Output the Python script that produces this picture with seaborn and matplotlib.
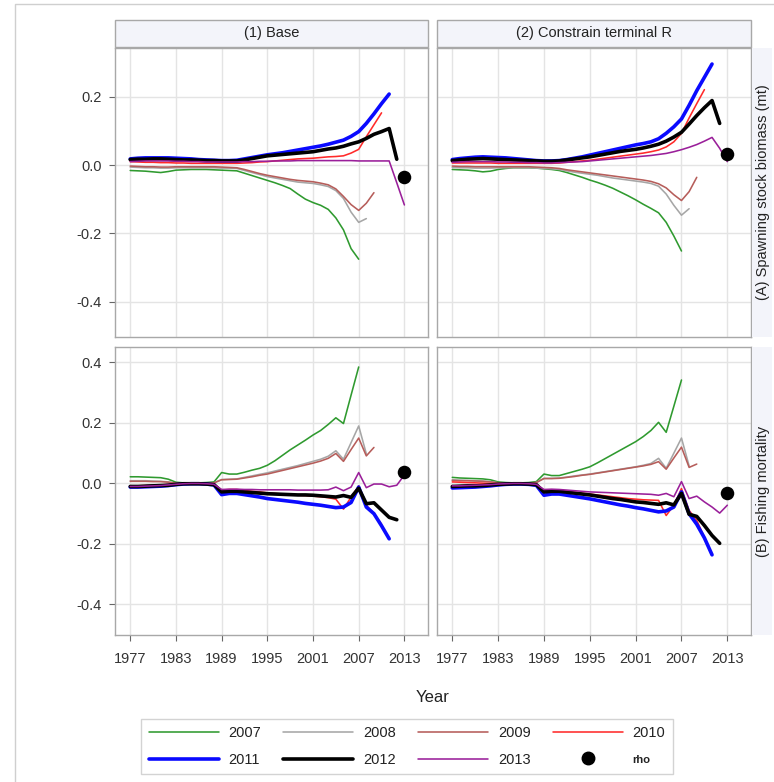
import matplotlib
matplotlib.use("Agg")
import matplotlib.pyplot as plt
from matplotlib.patches import Rectangle
from matplotlib.lines import Line2D
import numpy as np
import pandas as pd
import seaborn as sns

# ---------------------------------------------------------------- data
first_year = 1977
series_names = ["2007", "2008", "2009", "2010", "2011", "2012", "2013"]
x_ticks = [1977, 1983, 1989, 1995, 2001, 2007, 2013]
rho_year = 2013

# (A) Spawning stock biomass, (1) Base
ssb_base_2007 = [-0.016, -0.017, -0.018, -0.020, -0.022, -0.019, -0.015, -0.014, -0.013, -0.013,
                 -0.013, -0.014, -0.015, -0.016, -0.017, -0.024, -0.031, -0.038, -0.045, -0.052,
                 -0.060, -0.069, -0.085, -0.100, -0.110, -0.118, -0.130, -0.155, -0.190, -0.245,
                 -0.276]
ssb_base_2008 = [-0.006, -0.007, -0.008, -0.008, -0.009, -0.009, -0.008, -0.008, -0.008, -0.008,
                 -0.008, -0.008, -0.009, -0.009, -0.010, -0.016, -0.022, -0.028, -0.034, -0.038,
                 -0.042, -0.046, -0.050, -0.052, -0.054, -0.058, -0.063, -0.075, -0.098, -0.138,
                 -0.168, -0.157]
ssb_base_2009 = [-0.003, -0.004, -0.005, -0.005, -0.006, -0.006, -0.005, -0.005, -0.005, -0.005,
                 -0.005, -0.005, -0.006, -0.007, -0.008, -0.013, -0.019, -0.025, -0.030, -0.034,
                 -0.038, -0.042, -0.045, -0.047, -0.049, -0.053, -0.058, -0.070, -0.092, -0.116,
                 -0.133, -0.112, -0.081]
ssb_base_2010 = [0.010, 0.009, 0.008, 0.008, 0.007, 0.007, 0.006, 0.006, 0.005, 0.005,
                 0.005, 0.005, 0.005, 0.005, 0.005, 0.006, 0.007, 0.009, 0.010, 0.012,
                 0.014, 0.016, 0.018, 0.019, 0.020, 0.022, 0.024, 0.025, 0.027, 0.035,
                 0.046, 0.083, 0.118, 0.153]
ssb_base_2011 = [0.018, 0.020, 0.021, 0.021, 0.021, 0.021, 0.020, 0.019, 0.018, 0.016,
                 0.015, 0.014, 0.013, 0.013, 0.014, 0.018, 0.022, 0.026, 0.030, 0.033,
                 0.036, 0.040, 0.044, 0.048, 0.052, 0.056, 0.061, 0.067, 0.073, 0.084,
                 0.098, 0.122, 0.150, 0.180, 0.208]
ssb_base_2012 = [0.016, 0.017, 0.017, 0.018, 0.018, 0.017, 0.016, 0.015, 0.015, 0.014,
                 0.013, 0.013, 0.012, 0.012, 0.012, 0.015, 0.019, 0.023, 0.027, 0.029,
                 0.031, 0.033, 0.035, 0.037, 0.039, 0.043, 0.047, 0.050, 0.055, 0.062,
                 0.068, 0.078, 0.090, 0.098, 0.107, 0.017]
ssb_base_2013 = [0.010, 0.011, 0.012, 0.012, 0.012, 0.012, 0.011, 0.011, 0.010, 0.010,
                 0.009, 0.009, 0.009, 0.009, 0.009, 0.010, 0.010, 0.011, 0.011, 0.012,
                 0.012, 0.012, 0.013, 0.013, 0.013, 0.013, 0.013, 0.013, 0.013, 0.013,
                 0.012, 0.012, 0.012, 0.012, 0.012, -0.052, -0.117]
ssb_base_rho = -0.036

# (A) Spawning stock biomass, (2) Constrain terminal R
ssb_con_2007 = [-0.013, -0.014, -0.015, -0.017, -0.020, -0.018, -0.013, -0.010, -0.008, -0.008,
                -0.008, -0.009, -0.011, -0.013, -0.016, -0.022, -0.029, -0.036, -0.044, -0.051,
                -0.059, -0.068, -0.079, -0.090, -0.102, -0.115, -0.127, -0.140, -0.168, -0.208,
                -0.252]
ssb_con_2008 = [-0.007, -0.008, -0.008, -0.009, -0.009, -0.009, -0.008, -0.008, -0.008, -0.008,
                -0.008, -0.009, -0.010, -0.011, -0.013, -0.017, -0.021, -0.024, -0.027, -0.030,
                -0.034, -0.038, -0.041, -0.044, -0.047, -0.050, -0.054, -0.062, -0.085, -0.118,
                -0.147, -0.128]
ssb_con_2009 = [-0.003, -0.004, -0.004, -0.005, -0.005, -0.005, -0.005, -0.005, -0.005, -0.005,
                -0.005, -0.006, -0.007, -0.008, -0.010, -0.014, -0.017, -0.020, -0.023, -0.026,
                -0.029, -0.032, -0.035, -0.038, -0.041, -0.044, -0.048, -0.055, -0.067, -0.087,
                -0.104, -0.078, -0.036]
ssb_con_2010 = [0.006, 0.006, 0.006, 0.006, 0.006, 0.006, 0.005, 0.005, 0.005, 0.005,
                0.005, 0.005, 0.005, 0.005, 0.006, 0.008, 0.010, 0.012, 0.014, 0.017,
                0.020, 0.023, 0.026, 0.029, 0.032, 0.035, 0.039, 0.044, 0.053, 0.068,
                0.093, 0.138, 0.180, 0.221]
ssb_con_2011 = [0.016, 0.019, 0.021, 0.023, 0.024, 0.023, 0.022, 0.021, 0.019, 0.017,
                0.015, 0.013, 0.012, 0.012, 0.013, 0.016, 0.020, 0.024, 0.029, 0.034,
                0.039, 0.044, 0.049, 0.054, 0.059, 0.063, 0.068, 0.077, 0.093, 0.112,
                0.135, 0.175, 0.218, 0.257, 0.296]
ssb_con_2012 = [0.013, 0.015, 0.017, 0.018, 0.019, 0.018, 0.017, 0.016, 0.015, 0.014,
                0.013, 0.012, 0.011, 0.011, 0.012, 0.015, 0.018, 0.021, 0.024, 0.028,
                0.032, 0.036, 0.040, 0.043, 0.046, 0.050, 0.055, 0.061, 0.070, 0.082,
                0.096, 0.120, 0.145, 0.168, 0.189, 0.122]
ssb_con_2013 = [0.008, 0.009, 0.010, 0.010, 0.010, 0.010, 0.009, 0.009, 0.008, 0.008,
                0.007, 0.007, 0.006, 0.006, 0.007, 0.008, 0.009, 0.010, 0.012, 0.014,
                0.016, 0.018, 0.020, 0.022, 0.024, 0.026, 0.028, 0.031, 0.034, 0.039,
                0.045, 0.052, 0.060, 0.070, 0.081, 0.049, 0.010]
ssb_con_rho = 0.032

# (B) Fishing mortality, (1) Base
f_base_2007 = [0.022, 0.022, 0.021, 0.020, 0.019, 0.014, 0.004, 0.002, 0.002, 0.002,
               0.003, 0.005, 0.036, 0.031, 0.031, 0.037, 0.044, 0.050, 0.060, 0.075,
               0.093, 0.111, 0.127, 0.143, 0.160, 0.175, 0.195, 0.217, 0.198, 0.292,
               0.385]
f_base_2008 = [0.009, 0.009, 0.009, 0.008, 0.007, 0.005, 0.001, 0.000, 0.000, 0.000,
               0.001, 0.002, 0.013, 0.014, 0.015, 0.020, 0.025, 0.030, 0.035, 0.041,
               0.047, 0.053, 0.059, 0.066, 0.073, 0.080, 0.090, 0.108, 0.080, 0.135,
               0.190, 0.098]
f_base_2009 = [0.007, 0.007, 0.007, 0.006, 0.006, 0.004, 0.001, 0.000, 0.000, 0.000,
               0.001, 0.002, 0.012, 0.013, 0.014, 0.018, 0.022, 0.027, 0.031, 0.037,
               0.043, 0.049, 0.055, 0.061, 0.067, 0.074, 0.083, 0.099, 0.073, 0.112,
               0.150, 0.091, 0.119]
f_base_2010 = [-0.008, -0.008, -0.007, -0.006, -0.005, -0.003, -0.001, 0.000, 0.000, 0.000,
               -0.001, -0.003, -0.022, -0.020, -0.020, -0.023, -0.026, -0.028, -0.031, -0.033,
               -0.035, -0.037, -0.039, -0.040, -0.042, -0.044, -0.047, -0.052, -0.085, -0.045,
               -0.008, -0.072, -0.100, -0.135]
f_base_2011 = [-0.012, -0.012, -0.011, -0.010, -0.009, -0.007, -0.004, -0.002, -0.001, -0.001,
               -0.002, -0.005, -0.037, -0.033, -0.033, -0.037, -0.041, -0.045, -0.050, -0.053,
               -0.056, -0.059, -0.062, -0.066, -0.069, -0.072, -0.076, -0.080, -0.078, -0.063,
               -0.012, -0.078, -0.100, -0.140, -0.183]
f_base_2012 = [-0.010, -0.010, -0.009, -0.008, -0.007, -0.006, -0.003, -0.001, -0.001, -0.001,
               -0.002, -0.004, -0.028, -0.026, -0.026, -0.028, -0.030, -0.032, -0.034, -0.035,
               -0.036, -0.037, -0.038, -0.038, -0.039, -0.041, -0.043, -0.045, -0.040, -0.046,
               -0.016, -0.067, -0.064, -0.088, -0.112, -0.120]
f_base_2013 = [-0.010, -0.010, -0.009, -0.008, -0.007, -0.005, -0.003, -0.001, 0.000, 0.000,
               -0.001, -0.003, -0.020, -0.019, -0.019, -0.020, -0.020, -0.021, -0.021, -0.021,
               -0.021, -0.021, -0.022, -0.022, -0.022, -0.022, -0.021, -0.012, -0.024, -0.012,
               0.036, -0.014, -0.002, -0.002, -0.011, -0.006, 0.028]
f_base_rho = 0.037

# (B) Fishing mortality, (2) Constrain terminal R
f_con_2007 = [0.020, 0.018, 0.017, 0.016, 0.015, 0.012, 0.005, 0.003, 0.002, 0.002,
              0.003, 0.006, 0.031, 0.026, 0.026, 0.033, 0.040, 0.047, 0.055, 0.068,
              0.082, 0.096, 0.110, 0.124, 0.138, 0.155, 0.175, 0.202, 0.169, 0.255,
              0.342]
f_con_2008 = [0.012, 0.011, 0.010, 0.009, 0.008, 0.006, 0.002, 0.001, 0.000, 0.000,
              0.001, 0.003, 0.017, 0.017, 0.018, 0.021, 0.025, 0.028, 0.031, 0.035,
              0.039, 0.043, 0.047, 0.051, 0.055, 0.060, 0.066, 0.083, 0.050, 0.100,
              0.150, 0.058]
f_con_2009 = [0.010, 0.009, 0.009, 0.008, 0.007, 0.005, 0.002, 0.001, 0.000, 0.000,
              0.001, 0.003, 0.016, 0.016, 0.017, 0.020, 0.023, 0.027, 0.030, 0.034,
              0.038, 0.042, 0.046, 0.050, 0.054, 0.058, 0.063, 0.072, 0.047, 0.084,
              0.120, 0.053, 0.064]
f_con_2010 = [0.005, 0.004, 0.003, 0.002, 0.001, 0.000, -0.001, -0.001, 0.000, 0.000,
              -0.001, -0.003, -0.024, -0.023, -0.023, -0.026, -0.029, -0.032, -0.035, -0.038,
              -0.041, -0.044, -0.047, -0.050, -0.052, -0.054, -0.055, -0.056, -0.106, -0.072,
              -0.017, -0.089, -0.122, -0.178]
f_con_2011 = [-0.015, -0.014, -0.013, -0.012, -0.010, -0.008, -0.005, -0.003, -0.002, -0.002,
              -0.003, -0.006, -0.039, -0.035, -0.035, -0.039, -0.043, -0.047, -0.051, -0.056,
              -0.061, -0.066, -0.071, -0.075, -0.080, -0.084, -0.089, -0.094, -0.091, -0.078,
              -0.028, -0.100, -0.135, -0.180, -0.236]
f_con_2012 = [-0.010, -0.009, -0.008, -0.008, -0.007, -0.005, -0.003, -0.002, -0.001, -0.001,
              -0.002, -0.004, -0.028, -0.026, -0.026, -0.029, -0.032, -0.035, -0.038, -0.042,
              -0.046, -0.050, -0.053, -0.057, -0.061, -0.063, -0.066, -0.069, -0.064, -0.071,
              -0.033, -0.102, -0.109, -0.139, -0.172, -0.198]
f_con_2013 = [-0.008, -0.008, -0.007, -0.006, -0.005, -0.004, -0.002, -0.001, 0.000, 0.000,
              -0.001, -0.003, -0.020, -0.019, -0.020, -0.022, -0.024, -0.026, -0.028, -0.029,
              -0.030, -0.031, -0.032, -0.033, -0.034, -0.035, -0.036, -0.039, -0.033, -0.044,
              0.006, -0.050, -0.042, -0.061, -0.078, -0.098, -0.072]
f_con_rho = -0.030

# ---------------------------------------------------------------- styles
colors = {"2007": "#2f9a2f", "2008": "#a6a6a6", "2009": "#b65d5a", "2010": "#ff2a2a",
          "2011": "#0a0aff", "2012": "#000000", "2013": "#9a1f9a"}
widths = {"2007": 1.15, "2008": 1.15, "2009": 1.15, "2010": 1.15,
          "2011": 2.6, "2012": 2.6, "2013": 1.15}

FONT = ["Liberation Sans", "DejaVu Sans"]
W, H = 774, 782


def long_frame(arrays):
    rows = []
    for name, vals in zip(series_names, arrays):
        for i, v in enumerate(vals):
            rows.append({"year": first_year + i, "value": v, "series": name})
    return pd.DataFrame(rows)


panels = [
    ("tl", [ssb_base_2007, ssb_base_2008, ssb_base_2009, ssb_base_2010,
            ssb_base_2011, ssb_base_2012, ssb_base_2013], ssb_base_rho),
    ("tr", [ssb_con_2007, ssb_con_2008, ssb_con_2009, ssb_con_2010,
            ssb_con_2011, ssb_con_2012, ssb_con_2013], ssb_con_rho),
    ("bl", [f_base_2007, f_base_2008, f_base_2009, f_base_2010,
            f_base_2011, f_base_2012, f_base_2013], f_base_rho),
    ("br", [f_con_2007, f_con_2008, f_con_2009, f_con_2010,
            f_con_2011, f_con_2012, f_con_2013], f_con_rho),
]

sns.set_theme(style="white")
plt.rcParams["font.family"] = FONT


def px_rect(x0, y0, x1, y1):
    return [x0 / W, 1 - y1 / H, (x1 - x0) / W, (y1 - y0) / H]


fig = plt.figure(figsize=(W / 100, H / 100), dpi=100)
fig.patch.set_facecolor("white")

boxes = {"tl": (115, 48, 428, 337), "tr": (437, 48, 751, 337),
         "bl": (115, 347, 428, 635), "br": (437, 347, 751, 635)}
ylims = {"tl": (-0.504, 0.343), "tr": (-0.504, 0.343),
         "bl": (-0.501, 0.451), "br": (-0.501, 0.451)}
yticks = {"tl": [-0.4, -0.2, 0.0, 0.2], "tr": [-0.4, -0.2, 0.0, 0.2],
          "bl": [-0.4, -0.2, 0.0, 0.2, 0.4], "br": [-0.4, -0.2, 0.0, 0.2, 0.4]}

grid_col = "#e4e4e4"
frame_col = "#a8a8a8"

for key, arrays, rho in panels:
    ax = fig.add_axes(px_rect(*boxes[key]))
    df = long_frame(arrays)
    sns.lineplot(data=df, x="year", y="value", hue="series", size="series",
                 hue_order=series_names, size_order=series_names,
                 palette=colors, sizes=widths, legend=False, ax=ax)
    sns.scatterplot(x=[rho_year], y=[rho], color="black", s=95,
                    edgecolor="black", linewidth=0, ax=ax, zorder=5)
    ax.set_xlim(1975.0, 2016.1)
    ax.set_ylim(*ylims[key])
    ax.set_xticks(x_ticks)
    ax.set_yticks(yticks[key])
    ax.grid(True, color=grid_col, linewidth=1.0)
    ax.set_axisbelow(True)
    ax.set_xlabel("")
    ax.set_ylabel("")
    for s in ax.spines.values():
        s.set_color(frame_col)
        s.set_linewidth(1.0)
    left = key.endswith("l")
    bottom = key.startswith("b")
    ax.tick_params(axis="y", which="both", left=left, labelleft=left,
                   length=4.5, width=0.8, color="#666666", pad=5,
                   labelsize=10.5, labelcolor="#333333")
    ax.tick_params(axis="x", which="both", bottom=bottom, labelbottom=bottom,
                   length=4.5, width=0.8, color="#666666", pad=8,
                   labelsize=10.5, labelcolor="#333333")
    if left:
        ax.set_yticklabels([f"{t:.1f}" for t in yticks[key]])

# column header strips
strip_fill = "#f3f4fa"
for (x0, x1), title in [((115, 428), "(1) Base"), ((437, 751), "(2) Constrain terminal R")]:
    fig.patches.append(Rectangle((x0 / W, 1 - 47 / H), (x1 - x0) / W, 27 / H,
                                 transform=fig.transFigure, facecolor=strip_fill,
                                 edgecolor=frame_col, linewidth=1.0))
    fig.text((x0 + x1) / 2 / W, 1 - 33.5 / H, title, ha="center", va="center",
             fontsize=10.5, color="#222222")

# row label strips
for (y0, y1), label in [((48, 337), "(A) Spawning stock biomass (mt)"),
                        ((347, 635), "(B) Fishing mortality")]:
    fig.patches.append(Rectangle((752 / W, 1 - y1 / H), 20 / W, (y1 - y0) / H,
                                 transform=fig.transFigure, facecolor=strip_fill,
                                 edgecolor="none", linewidth=0))
    fig.text(763 / W, 1 - (y0 + y1) / 2 / H, label, ha="center", va="center",
             rotation=90, fontsize=10.5, color="#222222")

# axis title
fig.text(433 / W, 1 - 697 / H, "Year", ha="center", va="center",
         fontsize=12, color="#222222")

# outer frame
fig.lines.append(Line2D([15 / W, 15 / W, 1.0], [0.0, 1 - 4 / H, 1 - 4 / H],
                        transform=fig.transFigure, color="#cfcfcf", linewidth=1.0))

# legend, laid out row by row in four columns
handles = {name: Line2D([], [], color=colors[name], linewidth=widths[name])
           for name in series_names}
handles["rho"] = Line2D([], [], color="black", marker="o", linestyle="none",
                        markersize=9)
order = ["2007", "2011", "2008", "2012", "2009", "2013", "2010", "rho"]
leg = fig.legend([handles[k] for k in order], order, ncol=4, loc="center",
                 bbox_to_anchor=(407 / W, 1 - 746.5 / H), frameon=True,
                 fancybox=False, edgecolor="#c8c8c8", fontsize=10.5,
                 handlelength=4.8, handletextpad=0.65, columnspacing=1.55,
                 labelspacing=0.85, borderpad=0.5)
leg.get_frame().set_linewidth(1.0)
for t in leg.get_texts():
    t.set_color("#222222")
    if t.get_text() == "rho":
        t.set_fontsize(8)
        t.set_fontweight("bold")

fig.savefig("out.png", dpi=100)
